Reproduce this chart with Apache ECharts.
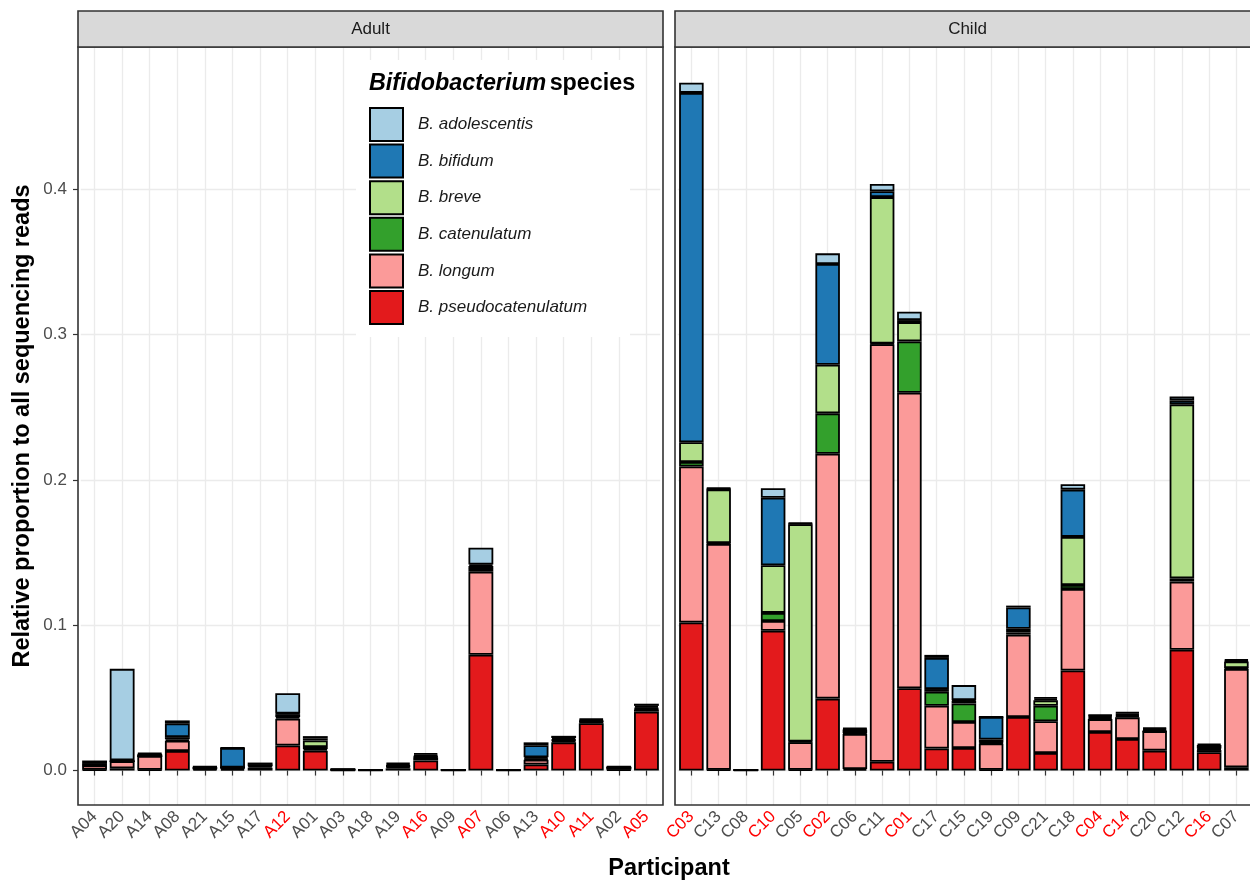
<!DOCTYPE html>
<html>
<head>
<meta charset="utf-8">
<script src="https://cdn.jsdelivr.net/npm/echarts@6/dist/echarts.min.js"></script>
<style>html,body{margin:0;padding:0;background:#fff;}#c{width:1250px;height:881px;}</style>
</head>
<body>
<div id="c"></div>
<script>
// ---- data ----
const species = ['B. pseudocatenulatum','B. longum','B. catenulatum','B. breve','B. bifidum','B. adolescentis'];
const legendOrder = ['B. adolescentis','B. bifidum','B. breve','B. catenulatum','B. longum','B. pseudocatenulatum'];
const speciesColors = ['#E31A1C','#FB9A99','#33A02C','#B2DF8A','#1F78B4','#A6CEE3'];

const adultCats = ['A04','A20','A14','A08','A21','A15','A17','A12','A01','A03','A18','A19','A16','A09','A07','A06','A13','A10','A11','A02','A05'];
const childCats = ['C03','C13','C08','C10','C05','C02','C06','C11','C01','C17','C15','C19','C09','C21','C18','C04','C14','C20','C12','C16','C07'];
const redParticipants = ['A12','A16','A07','A10','A11','A05','C03','C10','C02','C01','C04','C14','C16'];
const yTickValues = [0, 0.1, 0.2, 0.3, 0.4];

const adultPseudo = [.0005,.0015,.0005,.0135,.001,.001,.002,.0172,.0137,.0003,.0002,.0015,.007,.0002,.0797,.0002,.0042,.0194,.0326,.0005,.0405];
const adultLongum = [.003,.005,.0095,.007,.0005,.001,.001,.0185,.001,.0003,.0002,.001,.002,.0003,.0571,.0002,.0032,.001,.0008,.0015,.0015];
const adultCaten  = [.0003,0,0,.001,.0002,0,.0005,.001,.0015,0,0,.0005,.0005,0,.0025,0,.0008,.0005,.0004,0,.0005];
const adultBreve  = [.0003,0,0,.0015,.0003,0,0,.002,.0045,0,0,.0005,.0005,0,.0015,0,.001,.0005,.0004,0,.0008];
const adultBifid  = [.0005,.0005,.0015,.0095,.0005,.0135,.0005,.0005,.0015,.0002,0,.001,.001,0,.001,0,.0082,.001,.0008,.0005,.0012];
const adultAdol   = [.0023,.063,.0007,.002,.0005,.0003,.0015,.014,.0015,.0002,.0001,.001,.001,0,.0115,.0001,.002,.0015,.0008,.0005,.0015];

const childPseudo = [.1019,.0005,.0002,.0962,.0005,.0495,.001,.0061,.0566,.0152,.0155,.0005,.0369,.0121,.0689,.0265,.0217,.0137,.0831,.0126,.0023];
const childLongum = [.1073,.1555,.0002,.0067,.019,.1685,.0242,.2873,.2034,.0294,.0179,.0182,.0566,.0218,.056,.0089,.0149,.0133,.0469,.0015,.0677];
const childCaten  = [.0031,.0005,0,.0056,.0005,.0278,.0005,.0005,.0353,.0096,.0128,.0005,.0015,.0107,.0028,.0008,.0009,0,.0023,.0005,.0005];
const childBreve  = [.0136,.037,0,.0328,.1495,.0334,.0025,.1007,.0133,.0019,.0019,.0022,.0025,.0037,.0331,.0008,.0009,.0009,.1197,.0005,.0045];
const childBifid  = [.2404,.0005,0,.0464,.0005,.0694,.0005,.004,.0014,.0214,.0005,.0155,.0147,.0012,.0325,.0008,.001,.0009,.0027,.0025,.0008];
const childAdol   = [.007,.0005,0,.0066,.0005,.0073,.0005,.0051,.0058,.0021,.0102,0,.0013,.0011,.0037,.0006,.0009,.0009,.0027,.0009,.0008];

const yMin = -0.0237, yMax = 0.4979;

const adultSeries = [adultPseudo, adultLongum, adultCaten, adultBreve, adultBifid, adultAdol];
const childSeries = [childPseudo, childLongum, childCaten, childBreve, childBifid, childAdol];

// ---- layout helpers ----
const FONT = 'Liberation Sans, Arial, Helvetica, sans-serif';
const panelW = 585, nCat = 21;
const band = panelW / (nCat + 0.2);
const adultPanelL = 78, childPanelL = 675, panelT = 47, panelB = 805;
const W = 1250;

function catData(cats) {
  return cats.map(c => ({
    value: c,
    textStyle: { color: redParticipants.includes(c) ? '#FF0000' : '#4D4D4D' }
  }));
}

const grids = [adultPanelL, childPanelL].map(L => {
  const left = L + 0.1 * band;
  const right = W - (left + band * nCat);
  return { left: left, right: right, top: panelT, bottom: 881 - panelB, containLabel: false };
});

const xAxes = [adultCats, childCats].map((cats, i) => ({
  type: 'category', gridIndex: i, data: catData(cats),
  axisLine: { show: false },
  axisTick: { show: true, alignWithLabel: true, length: 5, lineStyle: { color: '#333333', width: 1.2 } },
  axisLabel: { rotate: 45, margin: 9, fontSize: 17, fontFamily: FONT, interval: 0 },
  splitLine: { show: true, alignWithLabel: true, lineStyle: { color: '#EBEBEB', width: 1.3 } }
}));

const yAxes = [0, 1].map(i => ({
  type: 'value', gridIndex: i, min: yMin, max: yMax,
  minInterval: 0.05, maxInterval: 0.05, splitNumber: 10,
  offset: i === 0 ? 0.1 * band : 0,
  axisLine: { show: false },
  axisTick: { show: i === 0, length: 5, lineStyle: { color: '#333333', width: 1.2 },
    customValues: yTickValues },
  axisLabel: {
    show: i === 0, margin: 11, fontSize: 17, color: '#4D4D4D', fontFamily: FONT,
    customValues: yTickValues,
    formatter: v => { const r = Math.round(v * 10); return Math.abs(v * 10 - r) < 1e-6 ? (r / 10).toFixed(1) : ''; }
  },
  splitLine: { show: true, lineStyle: { color: '#EBEBEB', width: 1.3 } }
}));

const series = [];
[adultSeries, childSeries].forEach((arrs, gi) => {
  arrs.forEach((vals, si) => {
    series.push({
      type: 'bar', name: species[si], xAxisIndex: gi, yAxisIndex: gi,
      stack: gi === 0 ? 'adult' : 'child', barWidth: '90%',
      data: vals,
      itemStyle: { color: speciesColors[si], borderColor: '#000', borderWidth: 1.8 },
      emphasis: { disabled: true },
      animation: false
    });
  });
});

const graphics = [];
// legend white background
graphics.push({ type: 'rect', shape: { x: 356, y: 60, width: 274, height: 277 }, style: { fill: '#fff' }, z: 1 });
graphics.push({ type: 'text', x: 369, y: 84, z: 5, style: {
  text: '{bi|Bifidobacterium} {b|species}', verticalAlign: 'middle', align: 'left',
  rich: {
    bi: { fontSize: 23.3, fontWeight: 'bold', fontStyle: 'italic', fontFamily: FONT, fill: '#000' },
    b: { fontSize: 23.3, fontWeight: 'bold', fontFamily: FONT, fill: '#000' }
  }
}});
// panel borders and strips
[[adultPanelL, 'Adult'], [childPanelL, 'Child']].forEach(([L, lab]) => {
  graphics.push({ type: 'rect', z: 100, shape: { x: L, y: panelT, width: panelW, height: panelB - panelT },
    style: { fill: 'none', stroke: '#333333', lineWidth: 1.6 } });
  graphics.push({ type: 'rect', z: 100, shape: { x: L, y: 11, width: panelW, height: panelT - 11 },
    style: { fill: '#D9D9D9', stroke: '#333333', lineWidth: 1.6 } });
  graphics.push({ type: 'text', z: 101, x: L + panelW / 2, y: 29, style: {
    text: lab, align: 'center', verticalAlign: 'middle', fontSize: 17, fontFamily: FONT, fill: '#1A1A1A' } });
});
// axis titles
graphics.push({ type: 'text', z: 10, x: 669, y: 869, style: {
  text: 'Participant', align: 'center', verticalAlign: 'middle', fontSize: 23.5, fontWeight: 'bold', fontFamily: FONT, fill: '#000' } });
graphics.push({ type: 'text', z: 10, x: 23, y: 426, rotation: Math.PI / 2, style: {
  text: 'Relative proportion to all sequencing reads', align: 'center', verticalAlign: 'middle', fontSize: 23.5, fontWeight: 'bold', fontFamily: FONT, fill: '#000' } });

const chart = echarts.init(document.getElementById('c'), null, { renderer: 'canvas' });
chart.setOption({
  animation: false,
  backgroundColor: '#fff',
  grid: grids,
  xAxis: xAxes,
  yAxis: yAxes,
  legend: {
    data: legendOrder, orient: 'vertical', left: 364, top: 102,
    itemWidth: 33, itemHeight: 33, itemGap: 1.6, z: 5,
    icon: 'rect', selectedMode: false,
    textStyle: { fontSize: 17, fontStyle: 'italic', color: '#1A1A1A', fontFamily: FONT, padding: [0, 0, 0, 10] }
  },
  graphic: graphics,
  series: series
});
</script>
</body>
</html>
